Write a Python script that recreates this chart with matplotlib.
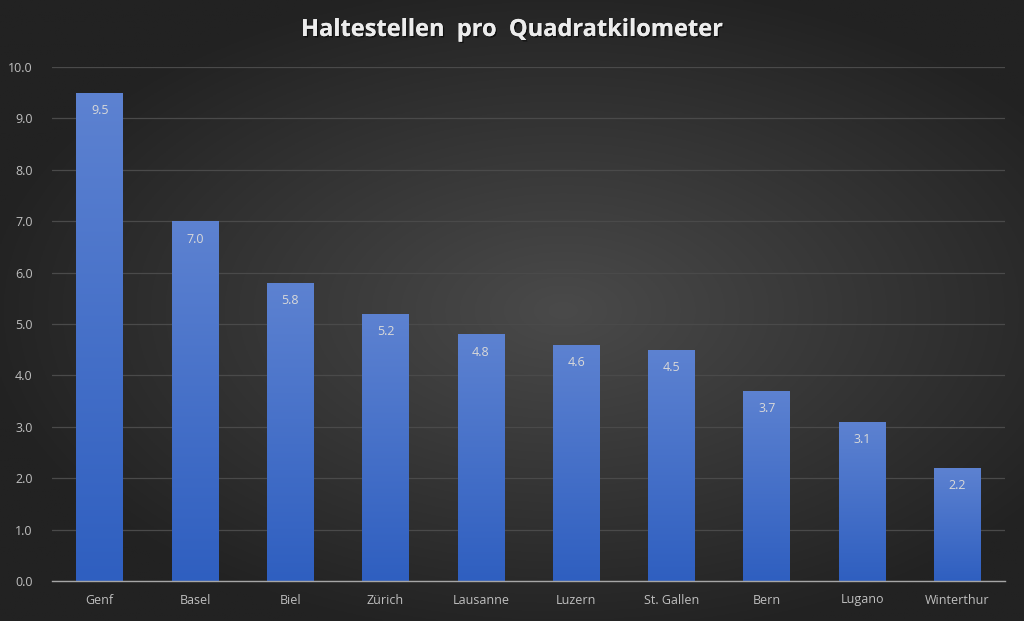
import numpy as np
import matplotlib
matplotlib.use("Agg")
import matplotlib.pyplot as plt
import matplotlib.patheffects as pe

cities = ["Genf", "Basel", "Biel", "Zürich", "Lausanne", "Luzern", "St. Gallen", "Bern", "Lugano", "Winterthur"]
values = [9.5, 7.0, 5.8, 5.2, 4.8, 4.6, 4.5, 3.7, 3.1, 2.2]
yticks = [0, 1, 2, 3, 4, 5, 6, 7, 8, 9, 10]
title = "Haltestellen  pro  Quadratkilometer"

plt.rcParams['font.family'] = ['Open Sans', 'DejaVu Sans']

fig = plt.figure(figsize=(10.24, 6.21), dpi=100)

# radial gradient background
bg = fig.add_axes([0, 0, 1, 1], zorder=-10)
yy, xx = np.mgrid[0:1:300j, 0:1:500j]
r = np.sqrt(((xx - 0.55) / 0.8) ** 2 + ((yy - 0.5) / 0.75) ** 2)
r = np.clip(r / 0.72, 0, 1)
inner = np.array([0x4a, 0x4a, 0x4a]) / 255
outer = np.array([0x22, 0x22, 0x22]) / 255
img = inner[None, None, :] * (1 - r[..., None]) + outer[None, None, :] * r[..., None]
bg.imshow(img, extent=[0, 1, 0, 1], aspect='auto', origin='lower')
bg.axis('off')

ax = fig.add_axes([52 / 1024, 40 / 621, 953 / 1024, 514 / 621])
ax.patch.set_alpha(0)
x = np.arange(len(cities))
bars = ax.bar(x, values, width=0.49, color='#4472c4', zorder=2)

# gradient fill on bars
grad = np.linspace(0, 1, 256)[:, None]
top = np.array([0x5d, 0x82, 0xd1]) / 255
bot = np.array([0x2f, 0x5f, 0xc0]) / 255
gimg = bot[None, None, :] * (1 - grad[..., None]) + top[None, None, :] * grad[..., None]
for b in bars:
    x0, y0 = b.get_x(), b.get_y()
    w, h = b.get_width(), b.get_height()
    im = ax.imshow(gimg, extent=[x0, x0 + w, y0, y0 + h], origin='lower', aspect='auto', zorder=3)
    im.set_clip_path(b)
    ax.text(x0 + w / 2, h - 0.22, f"{h:.1f}", ha='center', va='top', color='#d9d9d9', fontsize=9, zorder=4)

ax.set_xlim(-0.5, len(cities) - 0.5)
ax.set_ylim(0, 10)
ax.set_yticks(yticks)
ax.set_yticklabels([f"{v:.1f}" for v in yticks])
ax.set_xticks(x)
ax.set_xticklabels(cities)
ax.tick_params(axis='both', length=0, colors='#bfbfbf', labelsize=9)
ax.tick_params(axis='x', pad=9)
ax.tick_params(axis='y', pad=14)
ax.grid(axis='y', color='#4a4a4a', linewidth=0.9, zorder=0)
ax.set_axisbelow(True)
for s in ['top', 'right', 'left']:
    ax.spines[s].set_visible(False)
ax.spines['bottom'].set_color('#a6a6a6')
ax.spines['bottom'].set_linewidth(1)
ax.spines['bottom'].set_zorder(5)

fig.text(0.5, 1 - 30 / 621, title, ha='center', va='center', color='#ececec',
         fontsize=17, fontweight='bold',
         path_effects=[pe.withSimplePatchShadow(offset=(1, -1), shadow_rgbFace='#000000', alpha=0.6), pe.Normal()])

fig.savefig("out.png", dpi=100)
